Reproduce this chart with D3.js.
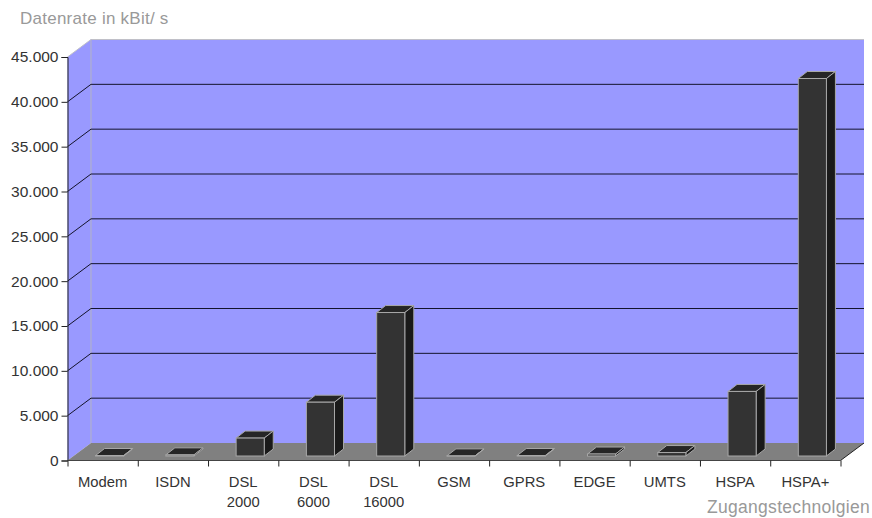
<!DOCTYPE html>
<html>
<head>
<meta charset="utf-8">
<script src="https://cdn.jsdelivr.net/npm/d3@7/dist/d3.min.js"></script>
<style>
html,body{margin:0;padding:0;background:#fff;}
svg{display:block;}
text{font-family:"Liberation Sans",Arial,sans-serif;}
</style>
</head>
<body>
<svg id="chart" width="872" height="518"></svg>
<script>
// Download rates per access technology, in kBit/s
const categories = ["Modem","ISDN","DSL 2000","DSL 6000","DSL 16000","GSM","GPRS","EDGE","UMTS","HSPA","HSPA+"];
const rates = [56,128,2000,6000,16000,14,54,220,384,7200,42100];
const yTicks = [0,5000,10000,15000,20000,25000,30000,35000,40000,45000];
const yTitle = "Datenrate in kBit/ s";
const xTitle = "Zugangstechnolgien";

const plotLeft = 67.5, plotRight = 840.5, plotBase = 460.5, plotTop = 57;
const wallDx = 23.5, wallDy = -17.5;   // depth of the floor and side wall
const barNear = {dx: 7, dy: -4.5};     // front face of a bar, relative to the axis plane
const barDepth = {dx: 9, dy: -7};      // extent of a bar's top and side faces

const svg = d3.select("#chart");
const y = d3.scaleLinear().domain([0,45000]).range([plotBase,plotTop]);
const x = d3.scaleBand().domain(categories).range([plotLeft,plotRight]).paddingInner(0.6).paddingOuter(0.3);
const xSlots = d3.scaleBand().domain(categories).range([plotLeft,plotRight]);
const xEdges = d3.scaleLinear().domain([0,categories.length]).range([plotLeft,plotRight]);
const german = d3.formatLocale({decimal:",",thousands:".",grouping:[3],currency:["","€"]});

const poly = pts => pts.map(p => p.join(",")).join(" ");

// Back wall, side wall and floor
svg.append("polygon")
  .attr("points", poly([[plotLeft+wallDx,plotBase+wallDy],[plotLeft+wallDx,plotTop+wallDy],[plotRight+wallDx,plotTop+wallDy],[plotRight+wallDx,plotBase+wallDy]]))
  .attr("fill","#9999ff");
svg.append("polygon")
  .attr("points", poly([[plotLeft,plotBase],[plotLeft,plotTop],[plotLeft+wallDx,plotTop+wallDy],[plotLeft+wallDx,plotBase+wallDy]]))
  .attr("fill","#9999ff");
svg.append("polygon")
  .attr("points", poly([[plotLeft,plotBase],[plotLeft+wallDx,plotBase+wallDy],[plotRight+wallDx,plotBase+wallDy],[plotRight,plotBase]]))
  .attr("fill","#808080");

// Light edges of the walls
svg.append("polyline")
  .attr("points", poly([[plotLeft,plotTop],[plotLeft+wallDx,plotTop+wallDy],[plotRight+wallDx,plotTop+wallDy]]))
  .attr("fill","none").attr("stroke","#c0c0c8").attr("stroke-width",1);
svg.append("line")
  .attr("x1",plotLeft+wallDx).attr("x2",plotLeft+wallDx).attr("y1",plotTop+wallDy).attr("y2",plotBase+wallDy)
  .attr("stroke","#b4b4c4").attr("stroke-width",1);

// Gridlines run up the side wall and across the back wall
svg.append("g").selectAll("polyline")
  .data(yTicks.filter(t => t > 0 && t < 45000))
  .join("polyline")
  .attr("points", t => poly([[plotLeft,y(t)],[plotLeft+wallDx,y(t)+wallDy],[plotRight+wallDx,y(t)+wallDy]]))
  .attr("fill","none").attr("stroke","#14142c").attr("stroke-width",1);

// Floor edge on the right
svg.append("line")
  .attr("x1",plotRight).attr("y1",plotBase).attr("x2",plotRight+wallDx).attr("y2",plotBase+wallDy)
  .attr("stroke","#222").attr("stroke-width",1);

// Axes
const yAxis = d3.axisLeft(y).tickValues(yTicks).tickSize(6).tickPadding(3)
  .tickFormat(german.format(",d"));
const gy = svg.append("g").attr("transform",`translate(${plotLeft},0)`).call(yAxis);
gy.select(".domain").attr("stroke","#222");
gy.selectAll(".tick line").attr("stroke","#222");
gy.selectAll(".tick text").attr("fill","#333").attr("font-size",15.5)
  .attr("font-family",'"Liberation Sans",Arial,sans-serif');

const xAxis = d3.axisBottom(xEdges).tickValues(d3.range(categories.length+1)).tickSize(6).tickFormat("");
const gx = svg.append("g").attr("transform",`translate(0,${plotBase})`).call(xAxis);
gx.select(".domain").attr("stroke","#444").attr("d",`M${plotLeft},0H${plotRight}`);
gx.selectAll(".tick line").attr("stroke","#222");

// Bars: front face, top and side
const barG = svg.append("g").selectAll("g")
  .data(categories.map((c,i) => ({c, v: rates[i]})))
  .join("g")
  .attr("transform",`translate(${barNear.dx},${barNear.dy})`);
const bx0 = d => x(d.c), bx1 = d => x(d.c)+x.bandwidth();
barG.append("polygon")
  .attr("points", d => poly([[bx0(d),y(d.v)],[bx0(d)+barDepth.dx,y(d.v)+barDepth.dy],[bx1(d)+barDepth.dx,y(d.v)+barDepth.dy],[bx1(d),y(d.v)]]))
  .attr("fill","#262626").attr("stroke","#a8a8a8");
barG.append("polygon")
  .attr("points", d => poly([[bx1(d),y(d.v)],[bx1(d)+barDepth.dx,y(d.v)+barDepth.dy],[bx1(d)+barDepth.dx,plotBase+barDepth.dy],[bx1(d),plotBase]]))
  .attr("fill","#1a1a1a").attr("stroke","#a8a8a8");
barG.append("rect")
  .attr("x",bx0).attr("width",x.bandwidth())
  .attr("y",d => y(d.v)).attr("height",d => plotBase-y(d.v))
  .attr("fill","#333").attr("stroke","#a8a8a8");

// Category labels, wrapped onto two lines where they contain a space
const labels = svg.append("g").selectAll("text")
  .data(categories)
  .join("text")
  .attr("text-anchor","middle").attr("font-size",14.8).attr("fill","#333");
labels.each(function(c){
  const cx = xSlots(c)+xSlots.bandwidth()/2;
  d3.select(this).selectAll("tspan")
    .data(c.split(" "))
    .join("tspan")
    .attr("x",cx)
    .attr("y",(d,i) => 487+i*20)
    .text(d => d);
});

// Axis titles
svg.append("text").attr("x",20).attr("y",24).attr("font-size",17).attr("letter-spacing",0.25).attr("fill","#999").text(yTitle);
svg.append("text").attr("x",870).attr("y",513).attr("text-anchor","end").attr("font-size",17.5).attr("letter-spacing",0.3).attr("fill","#999").text(xTitle);
</script>
</body>
</html>
